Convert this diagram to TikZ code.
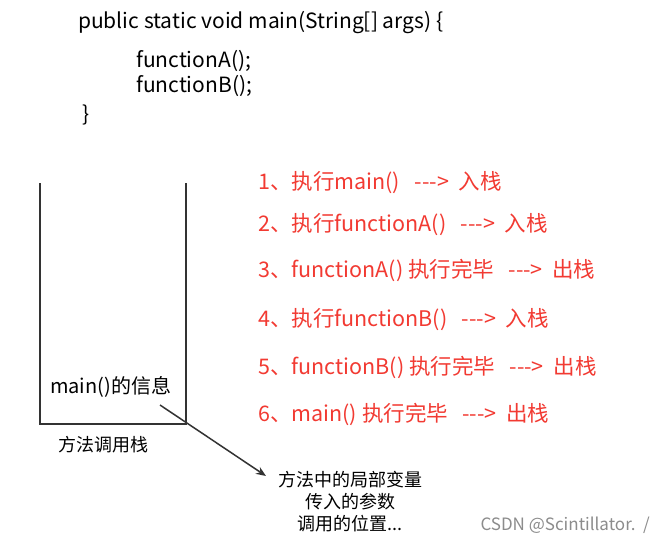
\documentclass[tikz,border=0pt]{standalone}
\usepackage{fontspec}
\usetikzlibrary{arrows.meta}
\setmainfont{Noto Sans CJK SC}
\newcommand{\arr}{{-}{-}{-}>}
\begin{document}
\begin{tikzpicture}[x=1pt,y=-1pt,
  code/.style={anchor=west,inner sep=0,font=\fontsize{21}{24}\selectfont},
  red/.style={anchor=west,inner sep=0,text=rd,font=\fontsize{21.5}{24}\selectfont},
  lbl/.style={inner sep=0,font=\fontsize{20}{24}\selectfont}]
\definecolor{rd}{HTML}{F23A32}
\useasboundingbox[fill=white] (0,0) rectangle (665,544);
\node[code] (c1) at (78,23) {public static void main(String[] args) \{};
\node[code] (c2) at (136,61) {functionA();};
\node[code] (c3) at (136,86) {functionB();};
\node[code] (c4) at (82,115) {\}};
\coordinate (lt) at (40,183); \coordinate (lb) at (40,424);
\coordinate (rt) at (186,183); \coordinate (rb) at (186,424);
\draw[line width=1.5pt,black!80] (lt) -- (lb) -- (rb) -- (rt);
\node[lbl,anchor=west] (info) at (50,387) {main()的信息};
\node[lbl,anchor=west,font=\fontsize{18}{20}\selectfont] (stk) at (58,445) {方法调用栈};
\node[lbl,align=center,font=\fontsize{18}{22}\selectfont] (det) at (350,502) {方法中的局部变量\\传入的参数\\调用的位置...};
\coordinate (as) at (160,405);
\draw[line width=1.5pt,black!80,-{Stealth[length=10pt,width=8pt]}] (as) -- (266,476);
\node[red] (r1) at (258,183) {1、执行main()\ \ \ \arr\ \ 入栈};
\node[red] (r2) at (258,225) {2、执行functionA()\ \ \ \arr\ \ 入栈};
\node[red] (r3) at (258,270) {3、functionA() 执行完毕\ \ \ \arr\ \ 出栈};
\node[red] (r4) at (258,320) {4、执行functionB()\ \ \ \arr\ \ 入栈};
\node[red] (r5) at (258,367) {5、functionB() 执行完毕\ \ \ \arr\ \ 出栈};
\node[red] (r6) at (258,414) {6、main() 执行完毕\ \ \ \arr\ \ 出栈};
\node[anchor=east,inner sep=0,text=black!45,font=\fontsize{17}{18}\selectfont] (wm) at (650,525) {CSDN @Scintillator.\ \ /};
\end{tikzpicture}
\end{document}
